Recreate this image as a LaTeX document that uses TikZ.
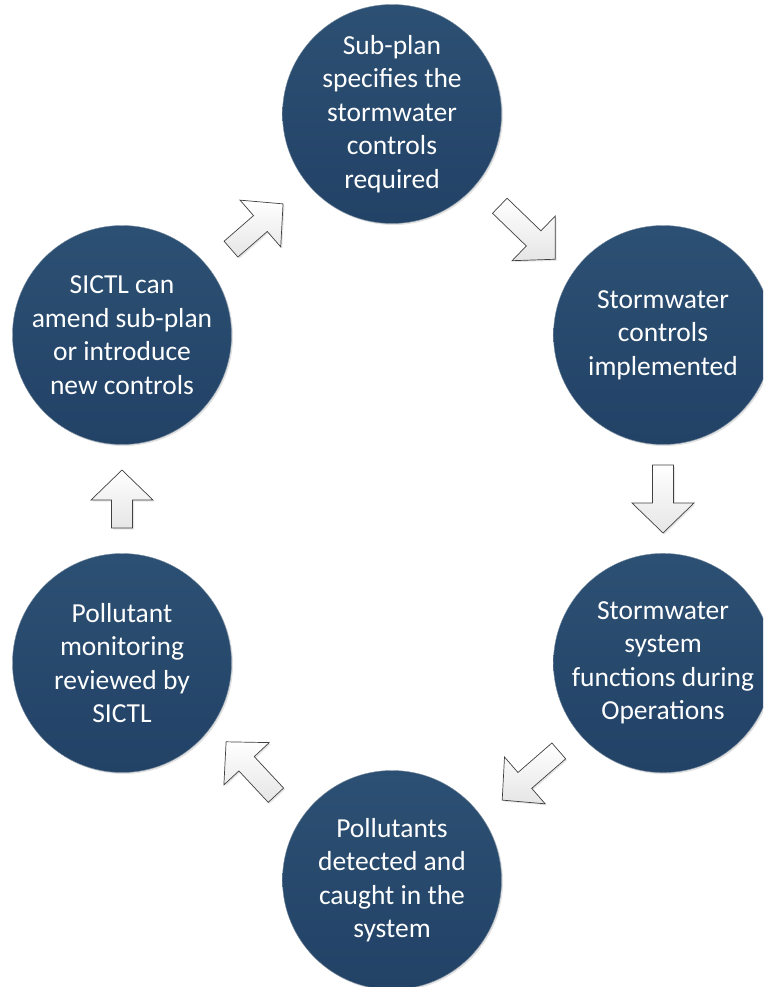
\documentclass[tikz,border=0pt]{standalone}
\usepackage{fontspec}
\setmainfont{Carlito}
\usepackage{tikz}
\usetikzlibrary{calc,positioning,shadows}
\definecolor{cyctop}{RGB}{44,80,115}
\definecolor{cycbot}{RGB}{34,66,102}
\definecolor{cycedge}{RGB}{120,140,160}

\tikzset{
  stage/.style={circle,minimum size=219,inner sep=0pt,align=center,text=white,
    top color=cyctop,bottom color=cycbot,draw=cycedge,line width=0.4pt,
    font=\fontsize{27.5}{33.5}\selectfont,
    drop shadow={opacity=0.25,shadow xshift=1.5pt,shadow yshift=-1.5pt}},
  blockarrow/.style={draw=black!75,line width=0.7pt,line join=miter,
    top color=white,bottom color=black!10,
    drop shadow={opacity=0.2,shadow xshift=1.5pt,shadow yshift=-1.5pt}}
}

% block arrow placed between two stages: [#1] nudge, #2 #3 stages, #4 angle, #5 length
\newcommand{\cyclearrow}[5][]{%
  \begin{scope}[shift={($(#2)!0.5!(#3)$)},#1,rotate=#4]
    \draw[blockarrow] (-#5/2,-10.5) -- (#5/2-30,-10.5) -- (#5/2-30,-31) -- (#5/2,0)
      -- (#5/2-30,31) -- (#5/2-30,10.5) -- (-#5/2,10.5) -- cycle;
  \end{scope}}

\begin{document}
\begin{tikzpicture}[x=1pt,y=1pt]
  \useasboundingbox (0,0) rectangle (763,-987);
  \begin{scope}
  \clip (0,0) rectangle (763,-987);
  \node[stage] (plan) at (392,-114) {Sub-plan\\specifies the\\stormwater\\controls\\required};
  \node[stage] (impl) at (663,-335) {Stormwater\\controls\\implemented};
  \node[stage] (oper) at (663,-663) {Stormwater\\system\\functions during\\Operations};
  \node[stage] (caught) at (392,-880) {Pollutants\\detected and\\caught in the\\system};
  \node[stage] (review) at (122,-663) {Pollutant\\monitoring\\reviewed by\\SICTL};
  \node[stage] (amend) at (122,-335) {SICTL can\\amend sub-plan\\or introduce\\new controls};
  \end{scope}
  \cyclearrow[yshift=-8]{plan}{impl}{-44}{77}
  \cyclearrow{impl}{oper}{-90}{68}
  \cyclearrow[xshift=3,yshift=-4]{oper}{caught}{-139}{75}
  \cyclearrow[xshift=-6,yshift=3]{caught}{review}{133}{73}
  \cyclearrow{review}{amend}{90}{58}
  \cyclearrow[yshift=-2]{amend}{plan}{41}{69}
\end{tikzpicture}
\end{document}
